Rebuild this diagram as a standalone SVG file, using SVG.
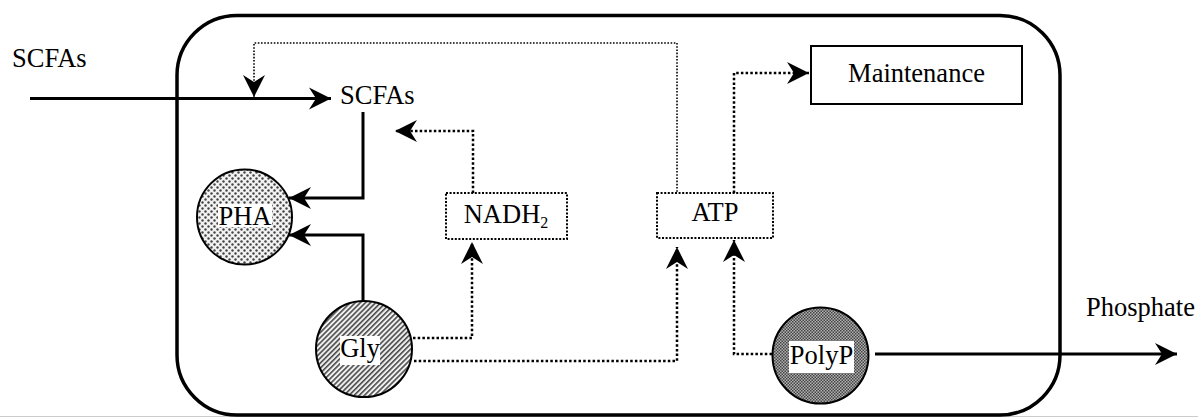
<svg xmlns="http://www.w3.org/2000/svg" width="1198" height="417" viewBox="0 0 1198 417">
<style>
text{font-family:"Liberation Serif","Times New Roman",serif;font-size:26.5px;fill:#000}
.solid{fill:none;stroke:#000;stroke-width:3}
.dot{fill:none;stroke:#000;stroke-width:2.5;stroke-dasharray:2.5 2.2}
.dotthin{fill:none;stroke:#000;stroke-width:1.6;stroke-dasharray:1.6 1.6}
.dbox{fill:#fff;stroke:#000;stroke-width:2;stroke-dasharray:2 1.6}
.circ{stroke:#000;stroke-width:2}
.lbl{fill:#fff}
</style>
<defs>
<marker id="ah" viewBox="-23 -12 24 24" refX="0" refY="0" markerWidth="24" markerHeight="24" markerUnits="userSpaceOnUse" orient="auto">
<path d="M0,0 L-22,-11 L-15,0 L-22,11 Z" fill="#000" stroke="none"/>
</marker>
<pattern id="pDots" width="6" height="6" patternUnits="userSpaceOnUse">
<rect width="6" height="6" fill="#f2f2f2"/>
<circle cx="1.5" cy="1.5" r="1.2" fill="#444"/>
<circle cx="4.5" cy="4.5" r="1.2" fill="#444"/>
</pattern>
<pattern id="pStripes" width="3.6" height="3.6" patternUnits="userSpaceOnUse" patternTransform="rotate(45)">
<rect width="3.6" height="3.6" fill="#f0f0f0"/>
<rect width="1.6" height="3.6" fill="#4a4a4a"/>
</pattern>
<pattern id="pCheck" width="3" height="3" patternUnits="userSpaceOnUse">
<rect width="3" height="3" fill="#b0b0b0"/>
<rect width="1.5" height="1.5" fill="#444"/>
<rect x="1.5" y="1.5" width="1.5" height="1.5" fill="#444"/>
</pattern>
</defs>
<rect width="1198" height="417" fill="#fff"/>
<line x1="0" y1="416.5" x2="1198" y2="416.5" stroke="#ccc" stroke-width="1"/>
<g id="cell">
<rect x="177" y="15.5" width="883" height="399.5" rx="60" ry="60" fill="none" stroke="#000" stroke-width="3.5"/>
</g>
<g id="connectors">
<path class="solid" d="M30,98.5 H331" marker-end="url(#ah)"/>
<path class="solid" d="M363,112 V198 H289" marker-end="url(#ah)"/>
<path class="solid" d="M363,301 V235 H289" marker-end="url(#ah)"/>
<path class="dot" d="M473,193 V131 H395" marker-end="url(#ah)"/>
<path class="dotthin" d="M677,195 V43 H254 V97" marker-end="url(#ah)"/>
<path class="dot" d="M734,193 V73 H809" marker-end="url(#ah)"/>
<path class="dot" d="M413,338 H472 V242" marker-end="url(#ah)"/>
<path class="dot" d="M414,361 H677 V247" marker-end="url(#ah)"/>
<path class="dot" d="M772,354 H734 V240" marker-end="url(#ah)"/>
<path class="solid" d="M875,354 H1177" marker-end="url(#ah)"/>
</g>
<g id="scfas-out"><text x="12" y="67">SCFAs</text></g>
<g id="scfas-in"><text x="340" y="104">SCFAs</text></g>
<g id="phosphate"><text x="1086" y="316">Phosphate</text></g>
<g id="maintenance">
<rect x="811" y="46" width="211" height="58" fill="#fff" stroke="#000" stroke-width="2"/>
<text x="916.5" y="82" text-anchor="middle">Maintenance</text>
</g>
<g id="nadh2">
<rect class="dbox" x="446" y="193" width="121" height="46"/>
<text x="506" y="223" text-anchor="middle">NADH<tspan font-size="16" dy="5">2</tspan></text>
</g>
<g id="atp">
<rect class="dbox" x="657" y="193" width="116" height="45"/>
<text x="715" y="221" text-anchor="middle">ATP</text>
</g>
<g id="pha">
<circle class="circ" cx="244.5" cy="217" r="47.5" fill="url(#pDots)"/>
<rect class="lbl" x="218" y="204" width="54" height="23"/>
<text x="245" y="225" text-anchor="middle">PHA</text>
</g>
<g id="gly">
<circle class="circ" cx="364" cy="349" r="48" fill="url(#pStripes)"/>
<rect class="lbl" x="340" y="336" width="40" height="29"/>
<text x="360" y="357" text-anchor="middle">Gly</text>
</g>
<g id="polyp">
<circle class="circ" cx="820.5" cy="355.5" r="48" fill="url(#pCheck)"/>
<rect class="lbl" x="789" y="341" width="65" height="32"/>
<text x="821.5" y="364" text-anchor="middle">PolyP</text>
</g>
</svg>
